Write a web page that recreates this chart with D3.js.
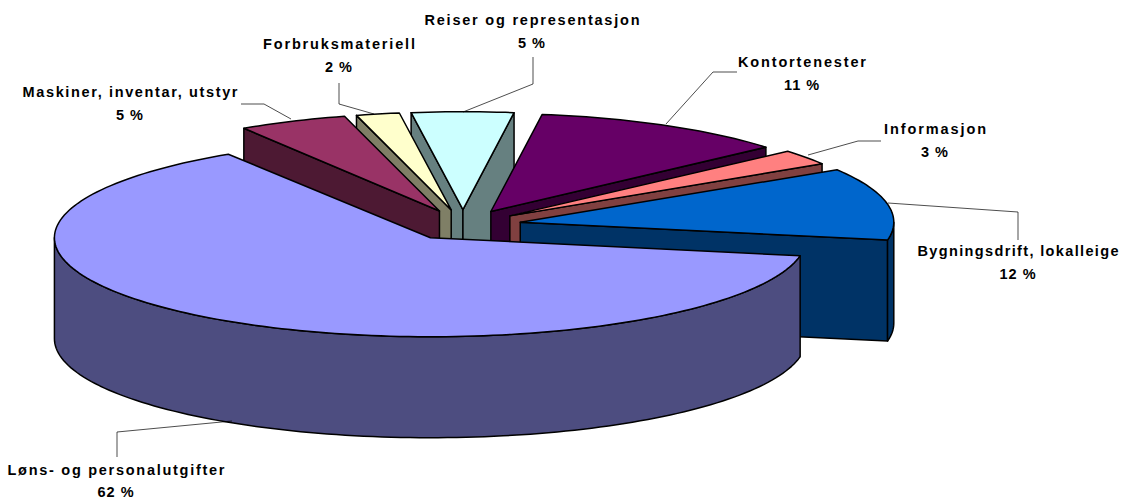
<!DOCTYPE html>
<html><head><meta charset="utf-8">
<style>html,body{margin:0;padding:0;background:#fff}svg{display:block}</style>
<script src="https://cdn.jsdelivr.net/npm/d3@7"></script></head>
<body><svg id="c" width="1121" height="500"></svg>
<script>
const categories = ["Bygningsdrift, lokalleige","Løns- og personalutgifter","Maskiner, inventar, utstyr","Forbruksmateriell","Reiser og representasjon","Kontortenester","Informasjon"];
const percentLabels = [12,62,5,2,5,11,3];
// slice sizes
const shares = [11.8,63.05,4.83,1.92,4.53,11.36,2.5];
const topColors = ["#0066CC","#9999FF","#993366","#FFFFCC","#CCFFFF","#660066","#FF8080"];
const wallColors = ["#003366","#4D4D80","#4D1933","#7F7F66","#668080","#330033","#804040"];
// layout of labels and leaders
const labelAt = [[1018,256],[116,475],[130,97],[339,49],[532,25],[802,67],[935,134]];
const labelWidth = [201,217,215,152,215,128,102];
const leaders = [
 [[888,203],[1018,212],[1018,240]],
 [[232,421],[117,432],[117,457]],
 [[291,119],[264,104],[241,104]],
 [[374,114],[339,104],[339,83]],
 [[463,112],[533,84],[533,57]],
 [[666,124],[713,72],[737,72]],
 [[808,155],[858,141],[881,141]]
];
const cx=463, cy=225, rx=376, ry=99, depth=101, explode=0.155, recede=0.035;
const startDeg=58;
const svg=d3.select("#c");
const pie=d3.pie().sort(null).startAngle(startDeg*Math.PI/180).endAngle((startDeg+360)*Math.PI/180);
const arcs=pie(shares);
const line=d3.line();
function samples(a0,a1){const n=Math.max(2,Math.ceil((a1-a0)*40));return d3.range(n+1).map(i=>a0+(a1-a0)*i/n);}
const slices=arcs.map((d,i)=>{const mid=(d.startAngle+d.endAngle)/2;
  return {i,a0:d.startAngle,a1:d.endAngle,mid,r:1-recede*Math.max(0,Math.cos(mid)),
    ry:1-0.3*recede*Math.max(0,Math.cos(mid)),
    o:[cx+explode*rx*Math.sin(mid),cy-explode*ry*Math.cos(mid)]};});
slices.sort((p,q)=>Math.cos(q.mid)-Math.cos(p.mid));
const g=svg.append("g").attr("stroke","#000").attr("stroke-width",1.5).attr("stroke-linejoin","round");
slices.forEach(s=>{
  const pt=(a,dz)=>[s.o[0]+s.r*rx*Math.sin(a), s.o[1]-s.ry*ry*Math.cos(a)+(dz||0)];
  const wall=wallColors[s.i], top=topColors[s.i];
  const quad=a=>line([s.o,pt(a),pt(a,depth),[s.o[0],s.o[1]+depth]])+"Z";
  if(Math.sin(s.a0)<0) g.append("path").attr("d",quad(s.a0)).attr("fill",wall);
  if(Math.sin(s.a1)>0) g.append("path").attr("d",quad(s.a1)).attr("fill",wall);
  // outer wall: front half only
  const lo=Math.max(s.a0,Math.PI/2), hi=Math.min(s.a1,3*Math.PI/2);
  if(hi>lo){
    const as=samples(lo,hi);
    const up=as.map(a=>pt(a)), dn=as.slice().reverse().map(a=>pt(a,depth));
    g.append("path").attr("d",line(up.concat(dn))+"Z").attr("fill",wall);
  }
  const rim=samples(s.a0,s.a1).map(a=>pt(a));
  g.append("path").attr("d",line([s.o].concat(rim))+"Z").attr("fill",top);
});
const lg=svg.append("g").attr("fill","none").attr("stroke","#000").attr("stroke-width",0.7);
leaders.forEach(l=>lg.append("path").attr("d",line(l)));
const tg=svg.append("g").attr("font-family","'Liberation Sans',Arial,sans-serif").attr("font-weight","bold").attr("font-size","14.5px").attr("text-anchor","middle").attr("fill","#000");
categories.forEach((c,i)=>{
  tg.append("text").attr("x",labelAt[i][0]).attr("y",labelAt[i][1]).attr("textLength",labelWidth[i]).attr("lengthAdjust","spacing").text(c);
  tg.append("text").attr("x",labelAt[i][0]).attr("y",labelAt[i][1]+(i===1?22:23)).attr("letter-spacing","1px").text(percentLabels[i]+" %");
});
</script></body></html>
